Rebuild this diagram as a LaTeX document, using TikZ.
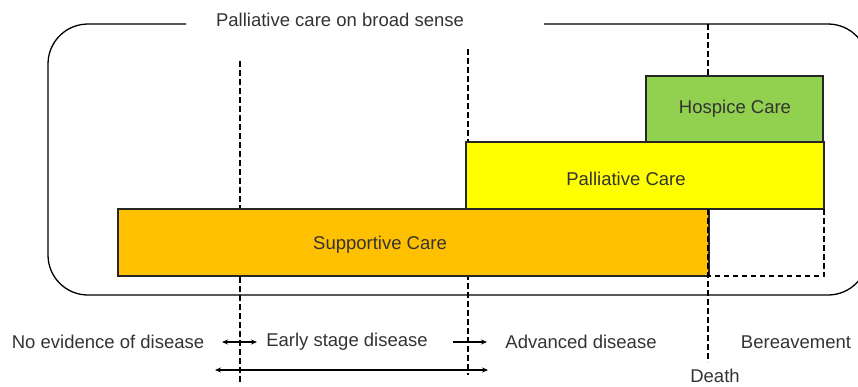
\documentclass[tikz,border=0pt]{standalone}
\usepackage{fontspec}
\setmainfont{Liberation Sans}
\usetikzlibrary{arrows.meta}
\definecolor{txt}{HTML}{333333}
\definecolor{hospice}{HTML}{92D050}
\definecolor{palliative}{HTML}{FFFF00}
\definecolor{supportive}{HTML}{FFC000}
\tikzset{
  lbl/.style={text=txt, font=\fontsize{18.5}{21}\selectfont, inner sep=0pt},
  carebox/.style={draw=black!85, line width=1.2pt, inner sep=0pt, outer sep=0pt, anchor=north west},
  phase/.style={black, line width=1.3pt, dash pattern=on 5.5pt off 3.5pt},
  frame/.style={black, line width=1.3pt, rounded corners=40pt},
  span/.style={black, line width=1.1pt, {Stealth[length=6pt,width=5pt]}-{Stealth[length=6pt,width=5pt]}},
  fwd/.style={black, line width=1.1pt, -{Stealth[length=6pt,width=5pt]}}
}
\begin{document}
\begin{tikzpicture}[x=1pt, y=-1pt]
\useasboundingbox (0,0) rectangle (858,386);
\clip (0,0) rectangle (858,386);

% outer frame with a gap for the title
\node[lbl] (title) at (340,20) {Palliative care on broad sense};
\coordinate (fl) at (186,24);
\coordinate (fr) at (544,24);
\draw[frame] (fl) -- (48,24) -- (48,295) -- (868,295) -- (868,24) -- (fr);

% phase boundaries
\coordinate (p1t) at (240,61);  \coordinate (p1b) at (240,382);
\coordinate (p2t) at (468,49);  \coordinate (p2b) at (468,375);
\draw[phase] (p1t) -- (p1b);
\draw[phase] (p2t) -- (p2b);

% care bands
\node[carebox, fill=supportive, minimum width=591pt, minimum height=67pt] (supp) at (118,209) {};
\node[carebox, fill=palliative, minimum width=358pt, minimum height=67pt] (pall) at (466,142) {};
\node[carebox, fill=hospice, minimum width=177pt, minimum height=66pt] (hosp) at (646,76) {};

\node[lbl] (supptext) at (380,245) {Supportive Care};
\node[lbl] (palltext) at (626,179) {Palliative Care};
\node[lbl] (hosptext) at (735,109) {Hospice Care};

% death line and bereavement support
\coordinate (dt) at (708,24);
\coordinate (dh) at (708,76);
\coordinate (dm) at (708,209);
\coordinate (db) at (708,362);
\draw[phase] (dt) -- (dh);
\draw[phase] (dm) -- (db);
\draw[phase] (pall.south east) |- (supp.south east);

% stage labels
\node[lbl] (ned) at (108,342) {No evidence of disease};
\node[lbl] (early) at (347,342) {Early stage disease};
\node[lbl] (adv) at (581,342) {Advanced disease};
\node[lbl] (ber) at (796,342) {Bereavement};
\node[lbl] (death) at (715,376) {Death};

% transitions
\coordinate (a1l) at (222,342); \coordinate (a1r) at (257,342);
\coordinate (a2l) at (453,342); \coordinate (a2r) at (487,342);
\coordinate (a3l) at (215,370); \coordinate (a3r) at (488,370);
\draw[span] (a1l) -- (a1r);
\draw[fwd] (a2l) -- (a2r);
\draw[span] (a3l) -- (a3r);
\end{tikzpicture}
\end{document}
